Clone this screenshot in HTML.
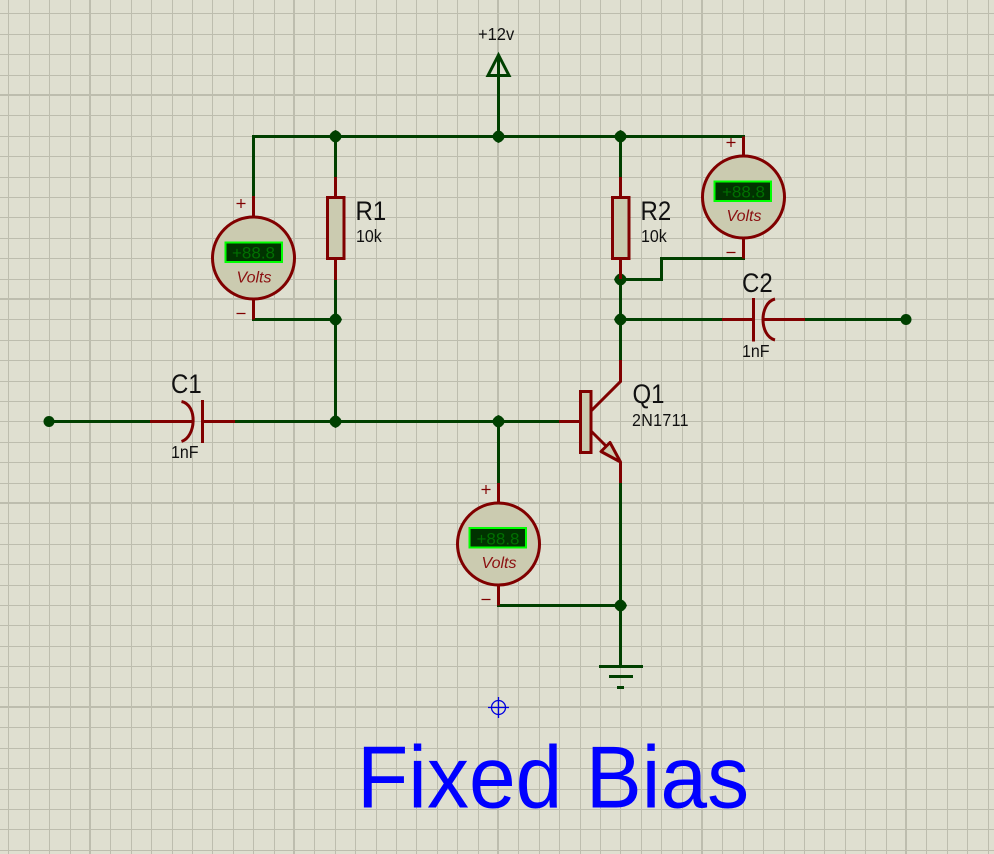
<!DOCTYPE html>
<html>
<head>
<meta charset="utf-8">
<title>Fixed Bias</title>
<style>
html,body{margin:0;padding:0;background:#dfdfd0;width:994px;height:854px;overflow:hidden}
svg{display:block}
text{font-family:"Liberation Sans",sans-serif;fill:#111}
.w{stroke:#004000;stroke-width:3;fill:none;stroke-linecap:square;stroke-linejoin:miter}
.r{stroke:#800000;stroke-width:3;fill:none;stroke-linecap:butt}
.b{stroke:#800000;stroke-width:3;fill:#cbcbb0;stroke-linejoin:miter}
.a{stroke:#800000;stroke-width:3;fill:#cbcbb0;stroke-linejoin:round}
.s{stroke:#800000;stroke-width:1.2;fill:none}
.lcd{fill:#003300;stroke:#00ff00;stroke-width:2}
.dg{fill:#007000;font-size:17px;text-anchor:middle}
.vt{fill:#8b1010;font-size:16px;font-style:italic;text-anchor:middle}
.big{font-size:24px}
.sm{font-size:16px}
</style>
</head>
<body>
<svg width="994" height="854" viewBox="0 0 994 854" xmlns="http://www.w3.org/2000/svg">
<defs>
<polygon id="j" points="0,-6.5 3,-5 5,-3 6.5,0 5,3 3,5 0,6.5 -3,5 -5,3 -6.5,0 -5,-3 -3,-5" fill="#004000"/>
</defs>
<rect width="994" height="854" fill="#dfdfd0"/>
<path stroke="#bdbdae" stroke-width="1" fill="none" d="M8.5 0V854M29.5 0V854M49.5 0V854M70.5 0V854M110.5 0V854M131.5 0V854M151.5 0V854M172.5 0V854M192.5 0V854M212.5 0V854M233.5 0V854M253.5 0V854M274.5 0V854M314.5 0V854M335.5 0V854M355.5 0V854M376.5 0V854M396.5 0V854M416.5 0V854M437.5 0V854M457.5 0V854M478.5 0V854M518.5 0V854M539.5 0V854M559.5 0V854M580.5 0V854M600.5 0V854M620.5 0V854M641.5 0V854M661.5 0V854M682.5 0V854M722.5 0V854M743.5 0V854M763.5 0V854M784.5 0V854M804.5 0V854M824.5 0V854M845.5 0V854M865.5 0V854M886.5 0V854M926.5 0V854M947.5 0V854M967.5 0V854M988.5 0V854
M0 13.5H994M0 34.5H994M0 54.5H994M0 75.5H994M0 115.5H994M0 136.5H994M0 156.5H994M0 177.5H994M0 197.5H994M0 217.5H994M0 238.5H994M0 258.5H994M0 279.5H994M0 319.5H994M0 340.5H994M0 360.5H994M0 381.5H994M0 401.5H994M0 421.5H994M0 442.5H994M0 462.5H994M0 483.5H994M0 523.5H994M0 544.5H994M0 564.5H994M0 585.5H994M0 605.5H994M0 625.5H994M0 646.5H994M0 666.5H994M0 687.5H994M0 727.5H994M0 748.5H994M0 768.5H994M0 789.5H994M0 809.5H994M0 829.5H994M0 850.5H994"/>
<path stroke="#bdbdae" stroke-width="2" fill="none" d="M90 0V854M294 0V854M498 0V854M702 0V854M906 0V854M0 95H994M0 299H994M0 503H994M0 707H994"/>

<!-- wires -->
<path class="w" d="M253.5 196V136.5H743.5"/>
<path class="w" d="M335.5 136.5V176M335.5 280V421"/>
<path class="w" d="M253.5 319.5H335.5"/>
<path class="w" d="M620.5 136.5V176M620.5 279V360M620.5 483V666"/>
<path class="w" d="M743.5 258.5H661.5V279.5H620.5"/>
<path class="w" d="M620.5 319.5H722M805 319.5H906"/>
<path class="w" d="M49 421.5H150M235 421.5H559"/>
<path class="w" d="M498.5 421.5V482M498.5 605.5H620.5"/>
<path class="w" d="M498.5 136.5V56"/>
<path class="w" d="M498.5 55L488 75.5H509Z"/>
<path d="M599 666.5H643M609 676.5H633" stroke="#004000" stroke-width="3" fill="none"/>
<path d="M617 687.5H624" stroke="#004000" stroke-width="3" fill="none"/>

<!-- junctions -->
<use href="#j" x="335.5" y="136.5"/><use href="#j" x="498.5" y="136.5"/><use href="#j" x="620.5" y="136.5"/>
<use href="#j" x="335.5" y="319.5"/><use href="#j" x="335.5" y="421.5"/><use href="#j" x="498.5" y="421.5"/>
<use href="#j" x="620.5" y="279.5"/><use href="#j" x="620.5" y="319.5"/><use href="#j" x="620.5" y="605.5"/>
<circle cx="49" cy="421.5" r="5.5" fill="#004000"/><circle cx="906" cy="319.5" r="5.5" fill="#004000"/>

<!-- resistors -->
<path class="r" d="M335.5 177V197M335.5 259V280M620.5 177V197M620.5 259V279"/>
<rect class="b" x="327.5" y="197.5" width="16.5" height="61"/>
<rect class="b" x="612.5" y="197.5" width="16.5" height="61"/>

<!-- capacitors -->
<path class="r" d="M150 421.5H192M202.5 421.5H235"/>
<path class="r" d="M202.5 400V443"/>
<path class="r" d="M181.5 401.5C198 405 196 437 181.5 441.5"/>
<path class="r" d="M722 319.5H753.5M764 319.5H805"/>
<path class="r" d="M753.5 298V341.5"/>
<path class="r" d="M775 299C759 303 759 336 775 340"/>

<!-- transistor -->
<path class="r" d="M559 421.5H580M620.5 360V381.5L591 411M591 431L606 446M620.5 462V483"/>
<rect class="b" x="580.5" y="391.5" width="10.5" height="61"/>
<path class="a" d="M610 442.5L601 451.5L620.5 462Z"/>

<!-- left meter -->
<path class="r" d="M253.5 196V217M253.5 299V319.5"/>
<circle class="b" cx="253.5" cy="258" r="41"/>
<rect class="lcd" x="225.5" y="242.5" width="56.5" height="19.5"/>
<text class="dg" x="253.5" y="258.5">+88.8</text>
<text class="vt" x="254" y="282.7">Volts</text>
<path class="s" d="M236.5 203.5H245.5M241 199V208M236.5 313.5H245.5"/>

<!-- right meter -->
<path class="r" d="M743.5 136.5V156M743.5 238V258.5"/>
<circle class="b" cx="743.5" cy="197" r="41"/>
<rect class="lcd" x="714.5" y="181.5" width="56.5" height="19.5"/>
<text class="dg" x="743.5" y="197.5">+88.8</text>
<text class="vt" x="744" y="221">Volts</text>
<path class="s" d="M726.5 142.5H735.5M731 138V147M726.5 252.5H735.5"/>

<!-- bottom meter -->
<path class="r" d="M498.5 483V503M498.5 585V605.5"/>
<circle class="b" cx="498.5" cy="544" r="41"/>
<rect class="lcd" x="469.5" y="528" width="56.5" height="19.5"/>
<text class="dg" x="498" y="544.5">+88.8</text>
<text class="vt" x="499" y="568">Volts</text>
<path class="s" d="M481.5 489.5H490.5M486 485V494M481.5 599.5H490.5"/>

<!-- origin marker -->
<circle cx="498.5" cy="707.5" r="7" fill="none" stroke="#0000e0" stroke-width="1.3"/>
<path d="M488 707.5H509M498.5 697V718" stroke="#0000e0" stroke-width="1.3" fill="none"/>

<!-- labels -->
<text transform="translate(478 40) scale(1 1.08)" font-size="16.5">+12v</text>
<text class="big" transform="translate(355.5 220) scale(1 1.1)">R1</text>
<text class="sm" transform="translate(356 242) scale(1 1.08)">10k</text>
<text class="big" transform="translate(640.5 220) scale(1 1.1)">R2</text>
<text class="sm" transform="translate(641 242) scale(1 1.08)">10k</text>
<text class="big" transform="translate(171 393) scale(1 1.1)">C1</text>
<text class="sm" transform="translate(171 458) scale(1 1.08)">1nF</text>
<text class="big" transform="translate(742 292) scale(1 1.1)">C2</text>
<text class="sm" transform="translate(742 357) scale(1 1.08)">1nF</text>
<text class="big" transform="translate(632.5 403) scale(1 1.1)">Q1</text>
<text class="sm" transform="translate(632 426) scale(1 1.08)" letter-spacing="0.35">2N1711</text>
<text transform="translate(357 807.5) scale(1 1.05)" font-size="84" style="fill:#0000ff">Fixed Bias</text>
</svg>
</body>
</html>
